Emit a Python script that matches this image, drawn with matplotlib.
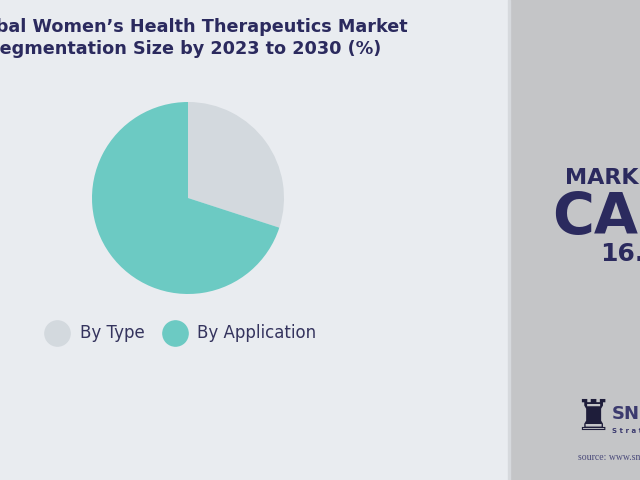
import matplotlib
matplotlib.use("Agg")
import matplotlib.pyplot as plt

# segment shares (%)
segments = ["By Type", "By Application"]
shares = [30, 70]
colors = ["#d3d9de", "#6ccac3"]

title_lines = ["Global Women\u2019s Health Therapeutics Market",
               "Segmentation Size by 2023 to 2030 (%)"]

navy = "#2b2a5e"

fig = plt.figure(figsize=(6.4, 4.8), dpi=100)
fig.patch.set_facecolor("#e9ecf0")

# background axes in pixel coordinates
bg = fig.add_axes([0, 0, 1, 1])
bg.set_xlim(0, 640)
bg.set_ylim(480, 0)
bg.axis("off")
bg.add_patch(plt.Rectangle((510, 0), 130, 480, color="#c4c5c7", zorder=0))
bg.add_patch(plt.Rectangle((508, 0), 2, 480, color="#d6d9dd", zorder=0))

# title (cut off on the left like the reference)
bg.text(408, 27, title_lines[0], ha="right", va="center", fontsize=12.7,
        fontweight="bold", color=navy)
bg.text(381, 49, title_lines[1], ha="right", va="center", fontsize=12.7,
        fontweight="bold", color=navy)

# pie
cx, cy, r = 188, 198, 96
pax = fig.add_axes([(cx - r) / 640, (480 - cy - r) / 480, 2 * r / 640, 2 * r / 480])
pax.pie(shares, colors=colors, startangle=90, counterclock=False, radius=1.0)
pax.set_xlim(-1, 1)
pax.set_ylim(-1, 1)
pax.set_aspect("equal")
pax.axis("off")

# legend
leg_x = [57, 175]
txt_x = [80, 197]
for i, name in enumerate(segments):
    bg.scatter(leg_x[i], 333, s=330, color=colors[i], zorder=3)
    bg.text(txt_x[i], 333, name, ha="left", va="center", fontsize=12,
            color="#35345e")

# right panel texts
bg.text(565, 184, "MARKET", ha="left", va="baseline", fontsize=16,
        fontweight="bold", color=navy)
bg.text(552, 234, "CAGR", ha="left", va="baseline", fontsize=41,
        fontweight="bold", color=navy)
bg.text(600, 261, "16.4%", ha="left", va="baseline", fontsize=18,
        fontweight="bold", color=navy)

# logo
bg.text(593, 418, "\u265c", ha="center", va="center", fontsize=30, color="#1e1d3a")
bg.text(612, 414, "SNS", ha="left", va="center", fontsize=13,
        fontweight="bold", color="#3b3a6e")
bg.text(612, 431, "S t r a t e g y", ha="left", va="center", fontsize=5,
        fontweight="bold", color="#3b3a6e")
bg.text(578, 458, "source: www.snsinsider.com", ha="left", va="center",
        fontsize=7, family="Liberation Serif", color="#4a4a7a")

fig.savefig("out.png", dpi=100, facecolor=fig.get_facecolor())
